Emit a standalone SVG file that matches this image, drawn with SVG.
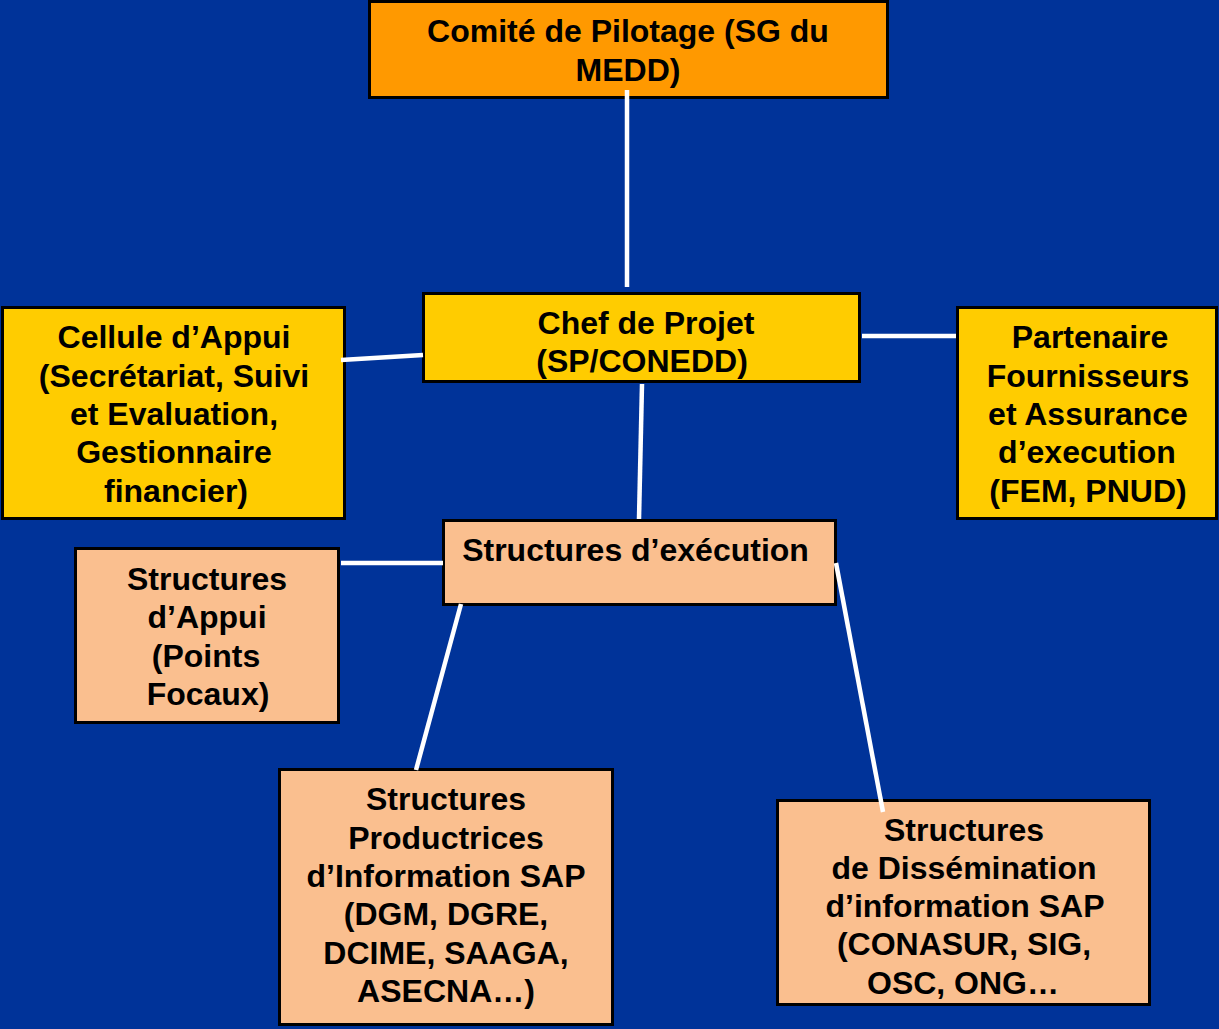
<svg xmlns="http://www.w3.org/2000/svg" width="1219" height="1029" viewBox="0 0 1219 1029">
<style>
.box{stroke:#000;stroke-width:3}
.o{fill:#FF9900}
.y{fill:#FFCC00}
.p{fill:#FABF8F}
text{font-family:"Liberation Sans",Arial,sans-serif;font-weight:bold;font-size:32px;fill:#000;text-anchor:middle}
.c line{stroke:#fff;stroke-width:4.5}
</style>
<rect width="1219" height="1029" fill="#003399"/>
<g id="comite">
<rect class="box o" x="369.5" y="1.5" width="518" height="96"/>
<text x="628" y="42">Comité de Pilotage (SG du</text>
<text x="628" y="81">MEDD)</text>
</g>
<g id="chef">
<rect class="box y" x="423.5" y="293.5" width="436" height="88"/>
<text x="646" y="334">Chef de Projet</text>
<text x="642" y="372">(SP/CONEDD)</text>
</g>
<g id="cellule">
<rect class="box y" x="2.5" y="307.5" width="342" height="211"/>
<text x="174" y="348">Cellule d’Appui</text>
<text x="174" y="387">(Secrétariat, Suivi</text>
<text x="174" y="425">et Evaluation,</text>
<text x="174" y="463">Gestionnaire</text>
<text x="176" y="502">financier)</text>
</g>
<g id="partenaire">
<rect class="box y" x="957.5" y="307.5" width="259" height="211"/>
<text x="1090" y="348">Partenaire</text>
<text x="1088" y="387">Fournisseurs</text>
<text x="1088" y="425">et Assurance</text>
<text x="1087" y="463">d’execution</text>
<text x="1088" y="502">(FEM, PNUD)</text>
</g>
<g id="execution">
<rect class="box p" x="443.5" y="520.5" width="392" height="84"/>
<text x="635.5" y="561">Structures d’exécution</text>
</g>
<g id="appui">
<rect class="box p" x="75.5" y="548.5" width="263" height="174"/>
<text x="207" y="590">Structures</text>
<text x="207" y="628">d’Appui</text>
<text x="206" y="667">(Points</text>
<text x="208" y="705">Focaux)</text>
</g>
<g id="productrices">
<rect class="box p" x="279.5" y="769.5" width="333" height="255"/>
<text x="446" y="810">Structures</text>
<text x="446" y="849">Productrices</text>
<text x="446" y="887">d’Information SAP</text>
<text x="446" y="925">(DGM, DGRE,</text>
<text x="446" y="964">DCIME, SAAGA,</text>
<text x="446" y="1002">ASECNA…)</text>
</g>
<g id="dissemination">
<rect class="box p" x="777.5" y="800.5" width="372" height="204"/>
<text x="964" y="841">Structures</text>
<text x="964" y="879">de Dissémination</text>
<text x="965" y="917">d’information SAP</text>
<text x="964" y="955">(CONASUR, SIG,</text>
<text x="963" y="994">OSC, ONG…</text>
</g>
<g class="c" id="connectors">
<line x1="627" y1="90" x2="627" y2="287"/>
<line x1="341" y1="360" x2="423" y2="355"/>
<line x1="862" y1="336" x2="956" y2="336"/>
<line x1="642" y1="384" x2="639" y2="519"/>
<line x1="341" y1="563" x2="443" y2="563"/>
<line x1="461" y1="604" x2="416" y2="770"/>
<line x1="836" y1="563" x2="883" y2="812"/>
</g>
</svg>
